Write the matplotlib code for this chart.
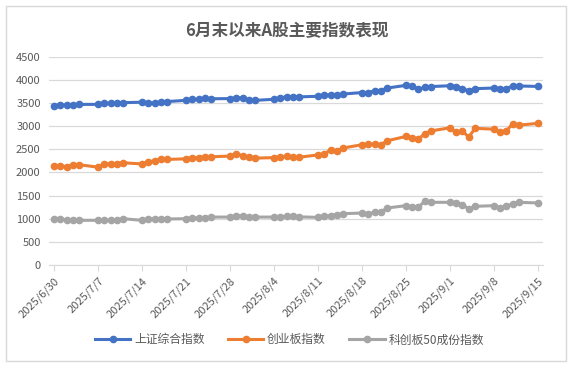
import pandas as pd
import matplotlib.pyplot as plt
import matplotlib.dates as mdates
from matplotlib.patches import Rectangle

plt.rcParams['font.family'] = ['Noto Sans CJK SC', 'DejaVu Sans']

# 交易日 2025/6/30 - 2025/9/15
dates = pd.bdate_range('2025-06-30', '2025-09-15')
tick_dates = pd.date_range('2025-06-30', '2025-09-15', freq='7D')

shanghai = [3444, 3458, 3455, 3461, 3472, 3473, 3497, 3493, 3510, 3510,
            3520, 3505, 3504, 3517, 3534, 3560, 3582, 3582, 3606, 3594,
            3598, 3610, 3616, 3573, 3560, 3583, 3618, 3634, 3640, 3635,
            3648, 3666, 3683, 3666, 3697, 3728, 3727, 3766, 3771, 3826,
            3884, 3868, 3800, 3844, 3858, 3876, 3858, 3814, 3766, 3813,
            3827, 3807, 3812, 3875, 3871, 3861]
chinext = [2150, 2145, 2125, 2160, 2168, 2115, 2183, 2187, 2190, 2210,
           2185, 2232, 2254, 2285, 2283, 2295, 2315, 2322, 2342, 2340,
           2355, 2410, 2360, 2330, 2310, 2322, 2332, 2352, 2335, 2330,
           2380, 2398, 2490, 2455, 2530, 2600, 2606, 2612, 2598, 2685,
           2780, 2750, 2725, 2840, 2900, 2965, 2868, 2895, 2765, 2955,
           2937, 2870, 2905, 3052, 3025, 3062]
star50 = [1000, 1000, 975, 966, 966, 966, 966, 968, 980, 1000,
          966, 993, 1000, 1000, 995, 1000, 1015, 1015, 1015, 1036,
          1036, 1065, 1062, 1036, 1036, 1036, 1036, 1062, 1065, 1040,
          1030, 1051, 1065, 1087, 1109, 1123, 1101, 1145, 1145, 1232,
          1283, 1254, 1254, 1377, 1355, 1355, 1341, 1304, 1210, 1268,
          1283, 1232, 1268, 1326, 1355, 1341]

series = [
    ('上证综合指数', shanghai, '#4472C4'),
    ('创业板指数', chinext, '#ED7D31'),
    ('科创板50成份指数', star50, '#A5A5A5'),
]

fig = plt.figure(figsize=(5.73, 3.67), dpi=100)
ax = fig.add_axes([0.0855, 0.278, 0.862, 0.567])

for name, vals, col in series:
    ax.plot(dates, vals, color=col, lw=2.2, marker='o', markersize=4.5, label=name)

ax.set_ylim(0, 4500)
ax.set_yticks(range(0, 4501, 500))
ax.set_xlim(dates[0] - pd.Timedelta(days=0.8), dates[-1] + pd.Timedelta(days=0.8))
ax.set_xticks(tick_dates)
ax.set_xticklabels([f'{d.year}/{d.month}/{d.day}' for d in tick_dates],
                   rotation=45, ha='right', rotation_mode='anchor')

ax.grid(axis='y', color='#D9D9D9', lw=0.9)
ax.set_axisbelow(True)
for s in ['top', 'right', 'left']:
    ax.spines[s].set_visible(False)
ax.spines['bottom'].set_color('#D9D9D9')
ax.tick_params(axis='x', colors='#D9D9D9', length=4, labelcolor='#595959', labelsize=8)
ax.tick_params(axis='y', length=0, labelcolor='#595959', labelsize=8, pad=6)

fig.text(0.5, 0.915, '6月末以来A股主要指数表现', ha='center', va='center',
         fontsize=12, fontweight='bold', color='#595959')

ax.legend(loc='center', bbox_to_anchor=(0.505, 0.074), bbox_transform=fig.transFigure,
          ncol=3, frameon=False, fontsize=8.5, labelcolor='#595959',
          handlelength=3, columnspacing=2, handletextpad=0.3)

fig.patches.append(Rectangle((0.011, 0.016), 0.977, 0.968, transform=fig.transFigure,
                             fill=False, edgecolor='#D9D9D9', lw=1))

fig.savefig('out.png', dpi=100)
